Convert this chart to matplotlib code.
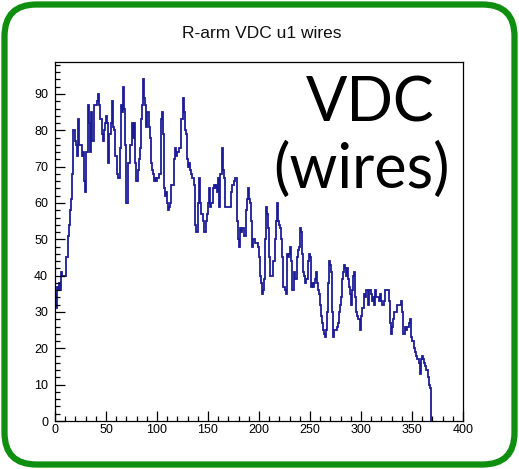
import matplotlib
matplotlib.use("Agg")
import matplotlib.pyplot as plt
from matplotlib.patches import FancyBboxPatch
from matplotlib.ticker import MultipleLocator
import numpy as np

title = "R-arm VDC u1 wires"
label_line1 = "VDC"
label_line2 = "(wires)"

# counts per wire (bin width 1, wires 0..368)
counts = [
    35, 31, 37, 36, 38, 36, 41, 40, 40, 40, 40, 45, 45, 51, 54, 58, 61, 68, 80, 80,
    77, 76, 73, 83, 76, 76, 73, 74, 66, 63, 74, 74, 87, 82, 74, 85, 77, 77, 87, 87,
    87, 88, 90, 87, 83, 83, 79, 77, 80, 82, 84, 82, 71, 79, 79, 82, 88, 81, 80, 73,
    73, 68, 67, 67, 75, 87, 85, 92, 86, 76, 60, 60, 71, 71, 76, 82, 78, 82, 71, 66,
    66, 69, 72, 75, 83, 87, 94, 89, 87, 81, 85, 85, 81, 78, 71, 69, 68, 66, 67, 66,
    67, 67, 68, 68, 83, 85, 79, 64, 62, 63, 60, 58, 59, 60, 65, 65, 65, 72, 75, 73,
    74, 74, 75, 75, 83, 89, 85, 80, 79, 72, 70, 71, 69, 68, 67, 67, 65, 54, 52, 52,
    60, 67, 60, 57, 57, 55, 52, 52, 55, 57, 60, 64, 59, 60, 60, 64, 65, 64, 65, 63,
    67, 59, 68, 68, 75, 69, 67, 59, 59, 59, 59, 59, 59, 63, 65, 66, 67, 67, 55, 50,
    48, 53, 52, 53, 53, 51, 51, 58, 61, 64, 61, 60, 55, 48, 50, 50, 49, 49, 49, 48,
    45, 40, 38, 35, 36, 39, 50, 59, 57, 53, 45, 40, 40, 40, 44, 44, 50, 55, 60, 55,
    54, 53, 50, 45, 37, 36, 35, 46, 45, 46, 48, 44, 36, 36, 41, 39, 39, 45, 47, 48,
    53, 52, 46, 41, 40, 38, 39, 39, 44, 46, 45, 37, 38, 37, 38, 39, 41, 38, 36, 35,
    32, 29, 27, 25, 24, 23, 25, 30, 38, 44, 43, 41, 30, 23, 25, 25, 26, 27, 30, 32,
    34, 39, 41, 43, 42, 40, 42, 39, 37, 35, 32, 36, 40, 41, 34, 30, 29, 28, 28, 25,
    29, 31, 31, 35, 34, 36, 36, 32, 36, 36, 35, 33, 34, 32, 36, 34, 34, 34, 33, 35,
    33, 32, 32, 33, 36, 36, 36, 33, 27, 24, 26, 28, 30, 30, 30, 32, 32, 32, 32, 33,
    30, 24, 24, 26, 25, 26, 26, 27, 28, 23, 22, 22, 20, 19, 18, 17, 17, 16, 13, 17,
    18, 17, 16, 15, 14, 14, 12, 10, 9,
]
x_range = [0, 400]
y_max = 98.8

W, H = 519, 469
fig = plt.figure(figsize=(W / 100, H / 100), dpi=100)
fig.patch.set_facecolor("white")

# main axes (pixel box: left 55, right 463, top 62, bottom 421)
ax = fig.add_axes([55 / W, 1 - 421 / H, (463 - 55) / W, (421 - 62) / H])
edges = np.arange(len(counts) + 1)
ax.stairs(counts, edges, baseline=0, color="#1c1c96", linewidth=1.3)
ax.set_xlim(*x_range)
ax.set_ylim(0, y_max)

ax.xaxis.set_major_locator(MultipleLocator(50))
ax.xaxis.set_minor_locator(MultipleLocator(10))
ax.yaxis.set_major_locator(MultipleLocator(10))
ax.yaxis.set_minor_locator(MultipleLocator(2))
ax.tick_params(axis="both", which="both", direction="in", top=False, right=False,
               width=0.9, colors="black")
ax.tick_params(axis="x", which="major", length=7.5, pad=2, labelsize=9)
ax.tick_params(axis="x", which="minor", length=3.8)
ax.tick_params(axis="y", which="major", length=7.5, pad=5, labelsize=9)
ax.tick_params(axis="y", which="minor", length=3.8)
for lab in ax.get_xticklabels() + ax.get_yticklabels():
    lab.set_fontfamily("Liberation Sans")
for s in ax.spines.values():
    s.set_linewidth(0.9)

fig.text(262 / W, 1 - 33 / H, title, ha="center", va="center",
         fontsize=12.5, family="Liberation Sans", color="#111111")

fig.text(370 / W, 1 - 122 / H, label_line1, ha="center", va="baseline",
         fontsize=44, family="Lato", color="black")
fig.text(362 / W, 1 - 188 / H, label_line2, ha="center", va="baseline",
         fontsize=44, family="Lato", color="black")

# green rounded frame drawn in pixel coordinates
ov = fig.add_axes([0, 0, 1, 1], zorder=10)
ov.set_xlim(0, W)
ov.set_ylim(H, 0)
ov.axis("off")
ov.patch.set_alpha(0)
frame = FancyBboxPatch((4.5, 4.5), W - 9, H - 9,
                       boxstyle="round,pad=0,rounding_size=32",
                       linewidth=4.5, edgecolor="#0f8f0f", facecolor="none")
ov.add_patch(frame)

fig.savefig("out.png", dpi=100)
